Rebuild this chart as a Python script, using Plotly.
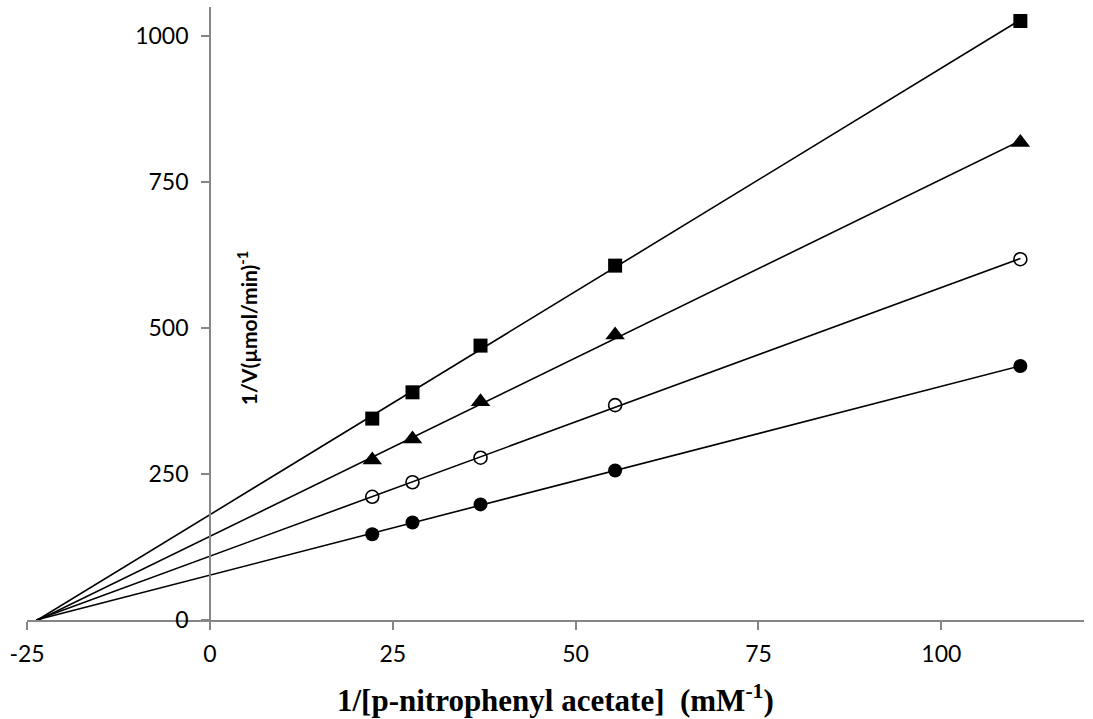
import numpy as np
import plotly.graph_objects as go

# 1/[S] (mM^-1)
inv_s = [22.2, 27.7, 37.0, 55.4, 110.8]
# 1/V values for each series
sq_vals = [345, 390, 470, 607, 1026]
tri_vals = [274, 310, 374, 488, 818]
open_vals = [211, 236, 278, 368, 618]
filled_vals = [147, 167, 198, 256, 435]

x_ticks = [-25, 0, 25, 50, 75, 100]
x_tick_text = ["-25", "0", "25", "50", "75", "100"]
y_ticks = [0, 250, 500, 750, 1000]
y_tick_text = ["0", "250", "500", "750", "1000"]

series = [
    (sq_vals, dict(symbol="square", size=14, color="black")),
    (tri_vals, dict(symbol="triangle-up", size=17, color="black")),
    (open_vals, dict(symbol="circle-open", size=13, color="black", line=dict(width=1.6, color="black"))),
    (filled_vals, dict(symbol="circle", size=14, color="black")),
]

fig = go.Figure()
xs = np.array(inv_s)
# trend lines (linear fit extended to the x-intercept)
for vals, _ in series:
    m, b = np.polyfit(xs, np.array(vals), 1)
    x0 = -b / m
    fig.add_trace(go.Scatter(x=[x0, xs[-1]], y=[0, m * xs[-1] + b], mode="lines",
                             line=dict(color="black", width=1.6), showlegend=False,
                             hoverinfo="skip"))
for vals, mk in series:
    fig.add_trace(go.Scatter(x=inv_s, y=vals, mode="markers", marker=mk, showlegend=False))

axis_col = "#868686"
tick_font = dict(family="Lato", size=23, color="black")
xmin, xmax = -25, 119.5

fig.update_layout(
    width=1093, height=719, autosize=False,
    margin=dict(l=27, r=9, t=7, b=99),
    paper_bgcolor="white", plot_bgcolor="white",
    xaxis=dict(range=[xmin, xmax], tickvals=x_ticks, ticktext=x_tick_text,
               showgrid=False, zeroline=False,
               showline=True, linecolor=axis_col, linewidth=1.5,
               ticks="outside", ticklen=8, tickcolor=axis_col, tickwidth=1.5,
               tickfont=tick_font, ticklabelstandoff=5),
    yaxis=dict(range=[0, 1050], tickvals=y_ticks, ticktext=y_tick_text,
               showgrid=False, zeroline=False,
               showline=True, linecolor=axis_col, linewidth=1.5,
               ticks="outside", ticklen=8, tickcolor=axis_col, tickwidth=1.5,
               tickfont=tick_font, anchor="free", position=(0 - xmin) / (xmax - xmin),
               ticklabelstandoff=8),
    annotations=[
        dict(text="<b>1/[p-nitrophenyl acetate]\u00a0\u00a0(mM<sup>-1</sup>)</b>",
             xref="paper", yref="paper", x=0.5, y=-78 / 613, xanchor="center", yanchor="middle",
             showarrow=False, font=dict(family="Liberation Serif", size=31, color="black")),
        dict(text="<b>1/V(µmol/min)<sup>-1</sup></b>", textangle=-90,
             xref="x", yref="y", x=5.1, y=500, xanchor="center", yanchor="middle",
             showarrow=False, font=dict(family="Lato", size=21, color="black")),
    ],
)

fig.write_html("out.html")
